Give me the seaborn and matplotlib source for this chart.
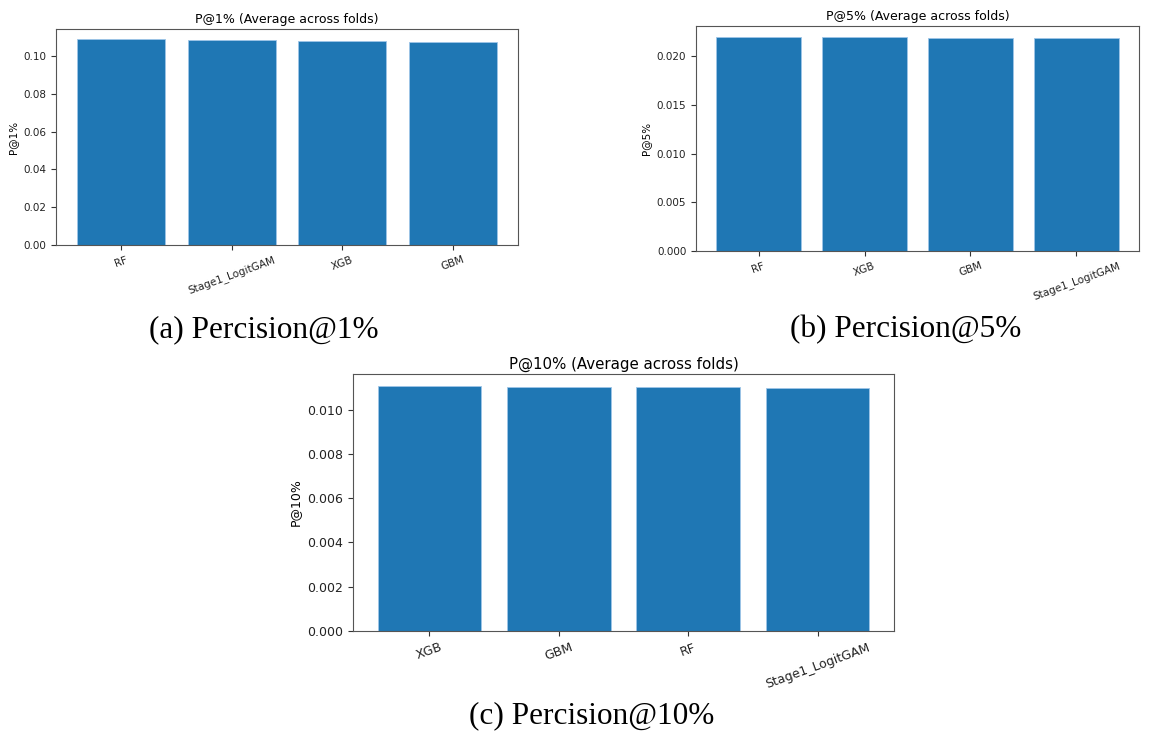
import pandas as pd
import seaborn as sns
import matplotlib.pyplot as plt

# P@1%
models_1 = ['RF', 'Stage1_LogitGAM', 'XGB', 'GBM']
p_at_1 = [0.1088, 0.1083, 0.1079, 0.1072]

# P@5%
models_5 = ['RF', 'XGB', 'GBM', 'Stage1_LogitGAM']
p_at_5 = [0.02199, 0.02198, 0.02189, 0.02182]

# P@10%
models_10 = ['XGB', 'GBM', 'RF', 'Stage1_LogitGAM']
p_at_10 = [0.01106, 0.01102, 0.01102, 0.01098]

captions = ['(a) Percision@1%', '(b) Percision@5%', '(c) Percision@10%']

W, H = 1153, 736
fig = plt.figure(figsize=(W / 100, H / 100), dpi=100)


def box(left, top, right, bottom):
    return [left / W, 1 - bottom / H, (right - left) / W, (bottom - top) / H]


def draw(ax, models, values, k, fs):
    df = pd.DataFrame({'model': models, 'value': values})
    sns.barplot(data=df, x='model', y='value', color='#1f77b4', saturation=1,
                width=0.8, edgecolor='#9ec5e8', linewidth=0.6, ax=ax)
    ax.set_xlabel('')
    ax.set_ylabel(f'P@{k}%', fontsize=fs)
    ax.set_title(f'P@{k}% (Average across folds)', fontsize=fs * 1.2, pad=4)
    ax.tick_params(axis='both', labelsize=fs, colors='#333333', labelcolor='#222222')
    for lab in ax.get_xticklabels():
        lab.set_rotation(20)
        lab.set_ha('center')
    # matplotlib's default 5% margins around the bars
    ax.set_xlim(-0.59, len(models) - 0.41)
    ax.set_ylim(0, max(values) * 1.05)
    for s in ax.spines.values():
        s.set_color('#555555')


ax1 = fig.add_axes(box(56, 29, 518, 245))
draw(ax1, models_1, p_at_1, 1, 7.5)

ax2 = fig.add_axes(box(696, 26, 1139, 251))
draw(ax2, models_5, p_at_5, 5, 7.5)

ax3 = fig.add_axes(box(353, 374, 894, 631))
draw(ax3, models_10, p_at_10, 10, 9)

serif = ['Liberation Serif', 'DejaVu Serif']
fig.text(264 / W, 1 - 330 / H, captions[0], family=serif, fontsize=22.5, ha='center', va='center')
fig.text(906 / W, 1 - 330 / H, captions[1], family=serif, fontsize=22.5, ha='center', va='center')
fig.text(592 / W, 1 - 716 / H, captions[2], family=serif, fontsize=22.5, ha='center', va='center')

plt.savefig('out.png', dpi=100)
